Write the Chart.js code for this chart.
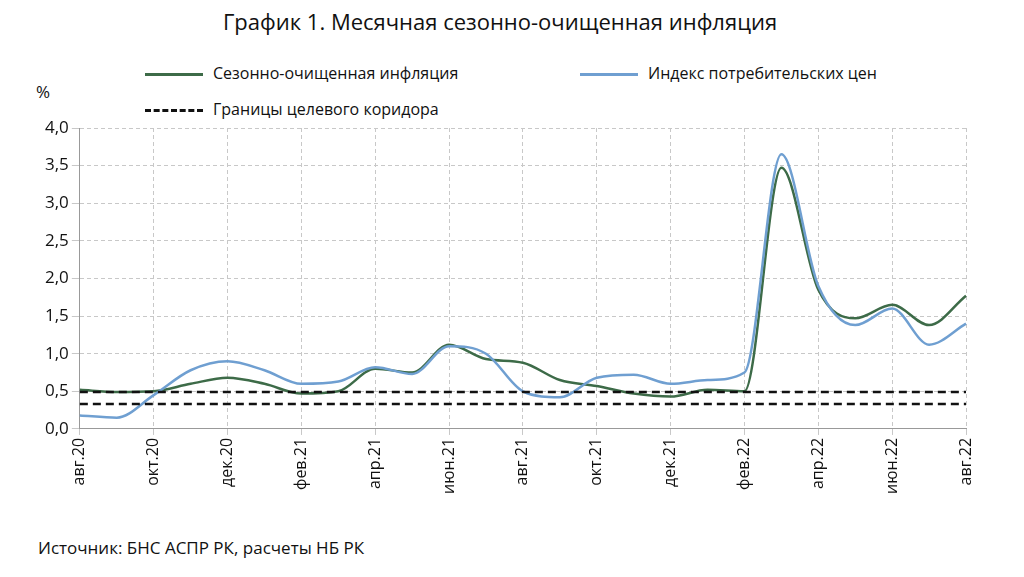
<!DOCTYPE html><html><head><meta charset="utf-8">
<script src="https://cdn.jsdelivr.net/npm/chart.js@4"></script>
<style>body{margin:0;width:1024px;height:577px;background:#fff;font-family:"Open Sans",sans-serif;position:relative;overflow:hidden}
.t{position:absolute;color:#111}
#c{position:absolute;left:0;top:0}
.sw{display:inline-block;width:58px;height:0;vertical-align:middle;margin-right:10px}
</style></head><body>
<div class="t" style="left:0;width:1000px;top:6px;text-align:center;font-size:22px">График 1. Месячная сезонно-очищенная инфляция</div>
<div class="t" style="left:145px;top:62px;font-size:16px"><span class="sw" style="border-top:3px solid #3d6b48"></span>Сезонно-очищенная инфляция</div>
<div class="t" style="left:580px;top:62px;font-size:16px"><span class="sw" style="border-top:3px solid #6f9fd1"></span>Индекс потребительских цен</div>
<div class="t" style="left:145px;top:98px;font-size:16px"><span class="sw" style="border-top:3px dashed #111"></span>Границы целевого коридора</div>
<div class="t" style="left:36px;top:80px;font-size:17px">%</div>
<div class="t" style="left:38px;top:536px;font-size:17px">Источник: БНС АСПР РК, расчеты НБ РК</div>
<canvas id="c" width="1024" height="577"></canvas>
<script>
const categories=["авг.20","сен.20","окт.20","ноя.20","дек.20","янв.21","фев.21","мар.21","апр.21","май.21","июн.21","июл.21","авг.21","сен.21","окт.21","ноя.21","дек.21","янв.22","фев.22","мар.22","апр.22","май.22","июн.22","июл.22","авг.22"];
const seasonal=[0.52,0.49,0.5,0.6,0.68,0.6,0.47,0.5,0.8,0.75,1.12,0.93,0.88,0.65,0.57,0.47,0.43,0.52,0.5,3.47,1.85,1.47,1.65,1.38,1.77];
const cpi=[0.18,0.15,0.45,0.78,0.9,0.78,0.6,0.63,0.82,0.73,1.1,1.0,0.5,0.42,0.68,0.72,0.6,0.65,0.75,3.65,1.9,1.38,1.6,1.12,1.4];
const upperBound=categories.map(()=>0.49);
const lowerBound=categories.map(()=>0.33);
new Chart(document.getElementById('c'),{type:'line',data:{labels:categories,datasets:[
{data:upperBound,borderColor:'#111',borderDash:[8,5],borderWidth:2.5,pointRadius:0},
{data:lowerBound,borderColor:'#111',borderDash:[8,5],borderWidth:2.5,pointRadius:0},
{data:cpi,borderColor:'#6f9fd1',borderWidth:2.5,pointRadius:0,cubicInterpolationMode:'monotone'},
{data:seasonal,borderColor:'#3d6b48',borderWidth:2.5,pointRadius:0,cubicInterpolationMode:'monotone'}]},
options:{responsive:false,animation:false,layout:{padding:{left:42,top:128,right:58,bottom:80}},
plugins:{legend:{display:false},tooltip:{enabled:false}},
scales:{x:{offset:false,grid:{color:c=>c.index%2===0?'#c8c8c8':'rgba(0,0,0,0)',tickLength:6},border:{color:'#999',dash:[4,3]},
ticks:{autoSkip:false,maxRotation:90,minRotation:90,color:'#111',font:{size:16,family:'Open Sans'},callback:(v,i)=>i%2===0?categories[i]:''}},
y:{min:0,max:4,grid:{color:'#c8c8c8'},border:{color:'#999',dash:[4,3]},ticks:{stepSize:0.5,color:'#111',font:{size:17,family:'Open Sans'},callback:v=>v.toFixed(1).replace('.',',')}}}}});
</script></body></html>
